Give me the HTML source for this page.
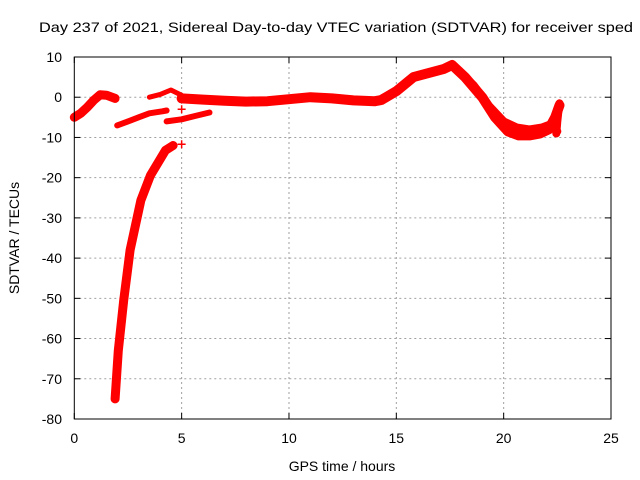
<!DOCTYPE html>
<html><head><meta charset="utf-8"><style>
body{margin:0;background:#fff}
svg{display:block;font-family:"Liberation Sans",sans-serif}
</style></head><body>
<svg id="chart" width="640" height="480" viewBox="0 0 640 480">
<rect width="640" height="480" fill="#fff"/>
<text x="39" y="32" font-size="14" textLength="594" lengthAdjust="spacingAndGlyphs">Day 237 of 2021, Sidereal Day-to-day VTEC variation (SDTVAR) for receiver sped</text>
<g id="grid"></g>
<g id="series"></g>
<rect x="74.3" y="57" width="536.7" height="362" fill="none" stroke="#000" stroke-width="1"/>
<g id="ticks"></g>
<text x="342" y="471" font-size="14" text-anchor="middle">GPS time / hours</text>
<text transform="translate(19,238) rotate(-90)" font-size="14" text-anchor="middle">SDTVAR / TECUs</text>
</svg>
<script>
const xTicks=[0,5,10,15,20,25];
const yTicks=[10,0,-10,-20,-30,-40,-50,-60,-70,-80];
const arcAT=[0,0.3,0.6,0.9,1.2,1.5,1.9];
const arcAV=[-5,-4,-2.5,-0.8,0.6,0.5,-0.3];
const arcBT=[2.0,2.5,3.0,3.5,4.1,4.3];
const arcBV=[-7,-6,-5,-4,-3.5,-3.3];
const arcCT=[3.5,4.0,4.5,5.0];
const arcCV=[0,0.7,1.8,0.5];
const arcDT=[4.3,5.0,5.6,6.3];
const arcDV=[-6,-5.5,-4.7,-3.8];
const mainT=[5.0,6,7,8,9,10,11,12,13,14,14.3,15,15.8,16.5,17.2,17.6,18.2,19.0,19.6,20.2,20.7,21.2,21.7,22.1,22.4,22.6];
const mainV=[-0.3,-0.6,-0.9,-1.1,-1.0,-0.5,0,-0.3,-0.8,-1.0,-0.7,1.5,5,6,7,8,5,0,-5,-8.5,-9.5,-9.5,-9,-8,-5,-2];
const lateT=[17.8,18.6,19.3,20.0,20.6,21.2,21.8,22.3,22.5];
const lateV=[7,3,-2,-6,-7.5,-8,-7.5,-6.5,-8.5];
const endT=[22.45,22.5,22.55,22.6];
const endV=[-9,-6,-3.5,-1.5];
const steepT=[1.9,2.05,2.3,2.6,3.1,3.55,4.25,4.6];
const steepV=[-75,-63,-50.5,-38,-25.6,-19.4,-13.2,-12];
const outT=[5.0,5.0];
const outV=[-11.7,-3];
const X0=74.3,X1=611,Y0=419,Y1=57,XMIN=0,XMAX=25,YMIN=-80,YMAX=10;
const sx=t=>X0+(t-XMIN)/(XMAX-XMIN)*(X1-X0);
const sy=v=>Y0-(v-YMIN)/(YMAX-YMIN)*(Y0-Y1);
const NS="http://www.w3.org/2000/svg";
const grid=document.getElementById('grid'),ticks=document.getElementById('ticks'),ser=document.getElementById('series');
function mk(tag,attrs,parent){const e=document.createElementNS(NS,tag);for(const k in attrs)e.setAttribute(k,attrs[k]);parent.appendChild(e);return e;}
xTicks.forEach(t=>{
 const x=sx(t);
 if(t>XMIN&&t<XMAX){const g=mk('line',{x1:x,x2:x,y1:Y1,y2:Y0,stroke:'#a0a0a0','stroke-dasharray':'2,3'},grid);
 
 }
 const a=mk('line',{x1:x,x2:x,y1:Y0,y2:Y0-6,stroke:'#000'},ticks);
 
 
 const b=mk('line',{x1:x,x2:x,y1:Y1,y2:Y1+6,stroke:'#000'},ticks);
 
 
 const l=mk('text',{x:x,y:443,'font-size':14,'text-anchor':'middle'},ticks);l.textContent=t;
 
 
});
yTicks.forEach(v=>{
 const y=sy(v);
 if(v>YMIN&&v<YMAX){const g=mk('line',{x1:X0,x2:X1,y1:y,y2:y,stroke:'#a0a0a0','stroke-dasharray':'2,3'},grid);
 
 }
 const a=mk('line',{x1:X0,x2:X0+6,y1:y,y2:y,stroke:'#000'},ticks);
 
 
 const b=mk('line',{x1:X1,x2:X1-6,y1:y,y2:y,stroke:'#000'},ticks);
 
 
 const l=mk('text',{x:62,y:y+5,'font-size':14,'text-anchor':'end'},ticks);l.textContent=v;
 
 
});
function band(T,V,w,name){
 const pts=T.map((t,i)=>sx(t).toFixed(1)+','+sy(V[i]).toFixed(1)).join(' ');
 const p=mk('polyline',{points:pts,fill:'none',stroke:'#f00','stroke-width':w,'stroke-linejoin':'round','stroke-linecap':'round'},ser);
 
 
}
function plus(T,V,name){
 T.forEach((t,i)=>{const x=sx(t),y=sy(V[i]);
  const p=mk('path',{d:`M${x-4},${y}H${x+4}M${x},${y-4}V${y+4}`,stroke:'#f00','stroke-width':1.5},ser);
  
  });
}
band(arcAT,arcAV,9,'arc-early');
band(arcBT,arcBV,6,'arc-lower');
band(arcCT,arcCV,5,'arc-upper');
band(arcDT,arcDV,6,'arc-mid');
band(mainT,mainV,10,'main-series');
band(lateT,lateV,8,'late-upper-branch');
band(endT,endV,8,'end-spread');
band(steepT,steepV,9,'steep-recovery');
plus(steepT.slice(0,1),steepV.slice(0,1),'steep-start-marker');
plus(outT,outV,'outlier-marker');
</script>
</body></html>
